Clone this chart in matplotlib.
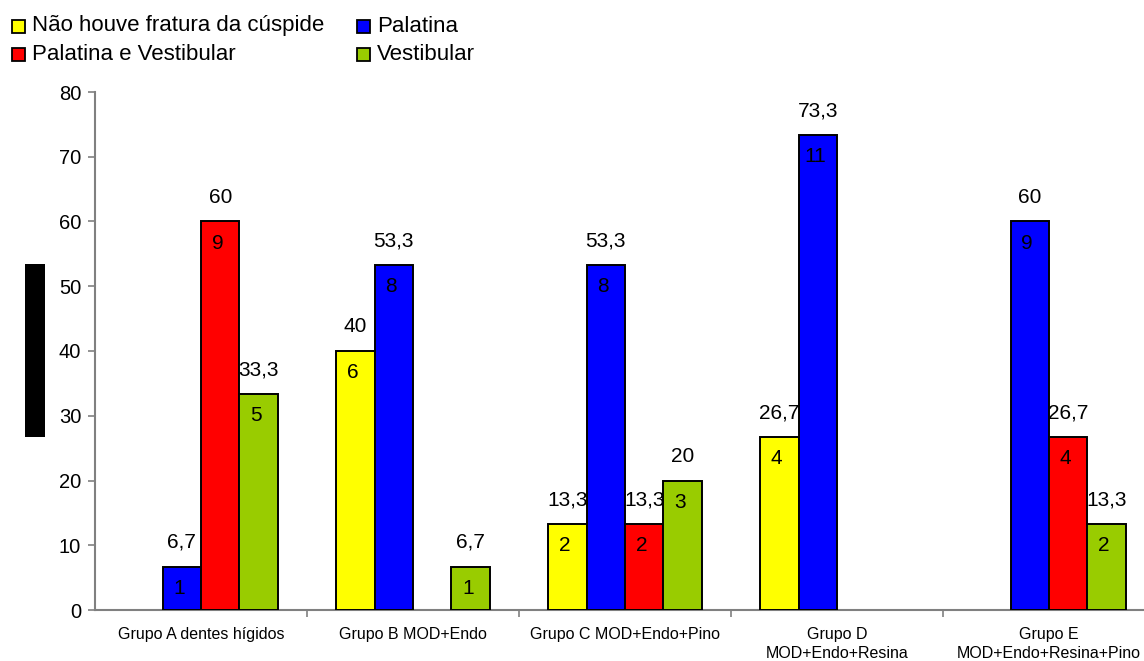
import matplotlib
matplotlib.use("Agg")
import matplotlib.pyplot as plt
from matplotlib.patches import Rectangle
import numpy as np

plt.rcParams['font.family'] = ['Liberation Sans', 'DejaVu Sans']

# Data: percentage of teeth per fracture type, and the absolute counts
groups = [
    "Grupo A dentes hígidos",
    "Grupo B MOD+Endo",
    "Grupo C MOD+Endo+Pino",
    "Grupo D\nMOD+Endo+Resina",
    "Grupo E\nMOD+Endo+Resina+Pino",
]
series_names = [
    "Não houve fratura da cúspide",
    "Palatina",
    "Palatina e Vestibular",
    "Vestibular",
]
series_colors = ["#FFFF00", "#0000FF", "#FF0000", "#99CC00"]

nao_houve = [0, 40, 13.3, 26.7, 0]
palatina = [6.7, 53.3, 53.3, 73.3, 60]
palatina_vestibular = [60, 0, 13.3, 0, 26.7]
vestibular = [33.3, 6.7, 20, 0, 13.3]

n_nao_houve = [0, 6, 2, 4, 0]
n_palatina = [1, 8, 8, 11, 9]
n_palatina_vestibular = [9, 0, 2, 0, 4]
n_vestibular = [5, 1, 3, 0, 2]

y_ticks = [0, 10, 20, 30, 40, 50, 60, 70, 80]

percent = [nao_houve, palatina, palatina_vestibular, vestibular]
counts = [n_nao_houve, n_palatina, n_palatina_vestibular, n_vestibular]


def fmt(v):
    if float(v).is_integer():
        return str(int(v))
    return f"{v:.1f}".replace(".", ",")


W, H = 1144, 661
fig = plt.figure(figsize=(W / 100, H / 100), dpi=100)
ax = fig.add_axes([95 / W, (H - 610) / H, 1060 / W, 518 / H])

bar_w = 0.1816
centers = np.arange(len(groups)) + 0.5
for k, (vals, cnts, col) in enumerate(zip(percent, counts, series_colors)):
    xs = centers + (k - 1.5) * bar_w
    keep = [i for i, v in enumerate(vals) if v > 0]
    kx = [xs[i] for i in keep]
    kv = [vals[i] for i in keep]
    kc = [cnts[i] for i in keep]
    ax.bar(kx, kv, width=bar_w, color=col, edgecolor="black",
           linewidth=1.4, zorder=3)
    for x, v, c in zip(kx, kv, kc):
        ax.annotate(fmt(v), (x, v), xytext=(0, 13.5), textcoords="offset points",
                    ha="center", va="baseline", fontsize=15, color="black",
                    zorder=4)
        ax.annotate(str(c), (x, v), xytext=(-2, -15.5), textcoords="offset points",
                    ha="center", va="center", fontsize=15, color="black",
                    zorder=4)

ax.set_xlim(0, len(groups))
ax.set_ylim(0, 80)
ax.set_yticks(y_ticks)
ax.set_yticklabels([str(t) for t in y_ticks], fontsize=14.5)

ax.set_xticks(centers)
ax.set_xticklabels(groups, fontsize=11.5, va="top", linespacing=1.4)
ax.set_xticks(np.arange(1, len(groups) + 1), minor=True)
ax.tick_params(axis="x", which="major", length=0, pad=12)
ax.tick_params(axis="x", which="minor", length=5, color="#808080", width=1.2,
               direction="out")
ax.tick_params(axis="y", length=5, color="#808080", width=1.2,
               direction="out", pad=5)

for side in ("top", "right"):
    ax.spines[side].set_visible(False)
for side in ("left", "bottom"):
    ax.spines[side].set_color("#808080")
    ax.spines[side].set_linewidth(1.5)

# Legend drawn as two rows of swatches with labels
legend_pos = [(12, 20), (357, 20), (12, 48), (357, 48)]
legend_order = [0, 1, 2, 3]
for (lx, ly), idx in zip(legend_pos, legend_order):
    fig.patches.append(Rectangle((lx / W, (H - ly - 13) / H), 13 / W, 13 / H,
                                 transform=fig.transFigure,
                                 facecolor=series_colors[idx],
                                 edgecolor="black", linewidth=1.3))
    fig.text((lx + 20) / W, (H - ly - 6) / H, series_names[idx],
             fontsize=16, ha="left", va="center")

# Solid block to the left of the value axis
fig.patches.append(Rectangle((25 / W, (H - 437) / H), 20 / W, 173 / H,
                             transform=fig.transFigure,
                             facecolor="black", edgecolor="none"))

fig.savefig("out.png", dpi=100)
